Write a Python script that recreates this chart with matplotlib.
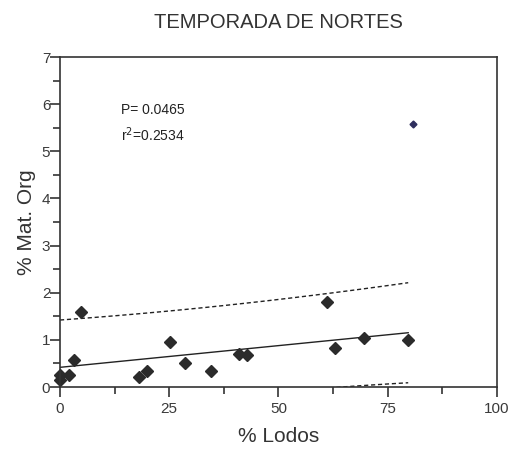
import numpy as np
import matplotlib.pyplot as plt

plt.rcParams['font.family'] = ['Liberation Sans', 'DejaVu Sans']

# datos (% lodos vs % materia organica)
lodos = [0.0, 0.0, 2.1, 3.1, 4.8, 18.0, 19.9, 25.2, 28.7, 34.6,
         41.0, 42.7, 61.0, 62.9, 69.5, 79.7]
mat_org = [0.15, 0.25, 0.25, 0.57, 1.59, 0.21, 0.33, 0.95, 0.52, 0.34,
           0.71, 0.69, 1.80, 0.82, 1.05, 1.00]
outlier_x = [80.9]
outlier_y = [5.58]
p_value = "0.0465"
r2_value = "0.2534"

x = np.array(lodos)
y = np.array(mat_org)
n = len(x)
slope, intercept = np.polyfit(x, y, 1)
resid = y - (intercept + slope * x)
s = np.sqrt(np.sum(resid ** 2) / (n - 2))
sxx = np.sum((x - x.mean()) ** 2)
t_crit = 2.145  # t(0.975, 14)

xs = np.linspace(x.min(), x.max(), 100)
fit = intercept + slope * xs
half = t_crit * s * np.sqrt(1 + 1 / n + (xs - x.mean()) ** 2 / sxx)

fig = plt.figure(figsize=(5.11, 4.49), dpi=100)
ax = fig.add_axes([0.1174, 0.138, 0.855, 0.735])

ax.plot(xs, fit, color='#222222', lw=1.0)
ax.plot(xs, fit + half, color='#222222', lw=1.0, ls=(0, (3, 2)))
ax.plot(xs, fit - half, color='#222222', lw=1.0, ls=(0, (3, 2)))
ax.plot(x, y, 'D', color='#2b2b2b', markersize=6.5, clip_on=False)
ax.plot(outlier_x, outlier_y, 'D', color='#2e2e5e', markersize=3.5)

ax.set_xlim(0, 100)
ax.set_ylim(0, 7)
ax.set_xticks([0, 25, 50, 75, 100])
ax.set_xticks([12.5, 37.5, 62.5, 87.5], minor=True)
ax.set_yticks(range(0, 8))
ax.set_yticks(np.arange(0.5, 7, 1), minor=True)
for sp in ax.spines.values():
    sp.set_color('#333333')
    sp.set_linewidth(1.2)
ax.tick_params(which='both', direction='out', color='#333333', width=1.2,
               labelsize=11, labelcolor='#3a3a3a')
ax.tick_params(which='major', length=7)
ax.tick_params(which='minor', length=5)
ax.tick_params(axis='x', pad=4)
ax.tick_params(axis='y', pad=0)

ax.set_xlabel('% Lodos', fontsize=15, color='#333333', labelpad=8)
ax.set_ylabel('% Mat. Org', fontsize=15, color='#333333', labelpad=4)
ax.set_title('TEMPORADA DE NORTES', fontsize=14.5, color='#333333', pad=21)

ax.text(14.0, 5.88, 'P= ' + p_value, fontsize=10, color='#222222', va='center')
ax.text(14.0, 5.36, r'r$^2$=' + r2_value, fontsize=10, color='#222222', va='center')

fig.savefig('out.png', dpi=100)
